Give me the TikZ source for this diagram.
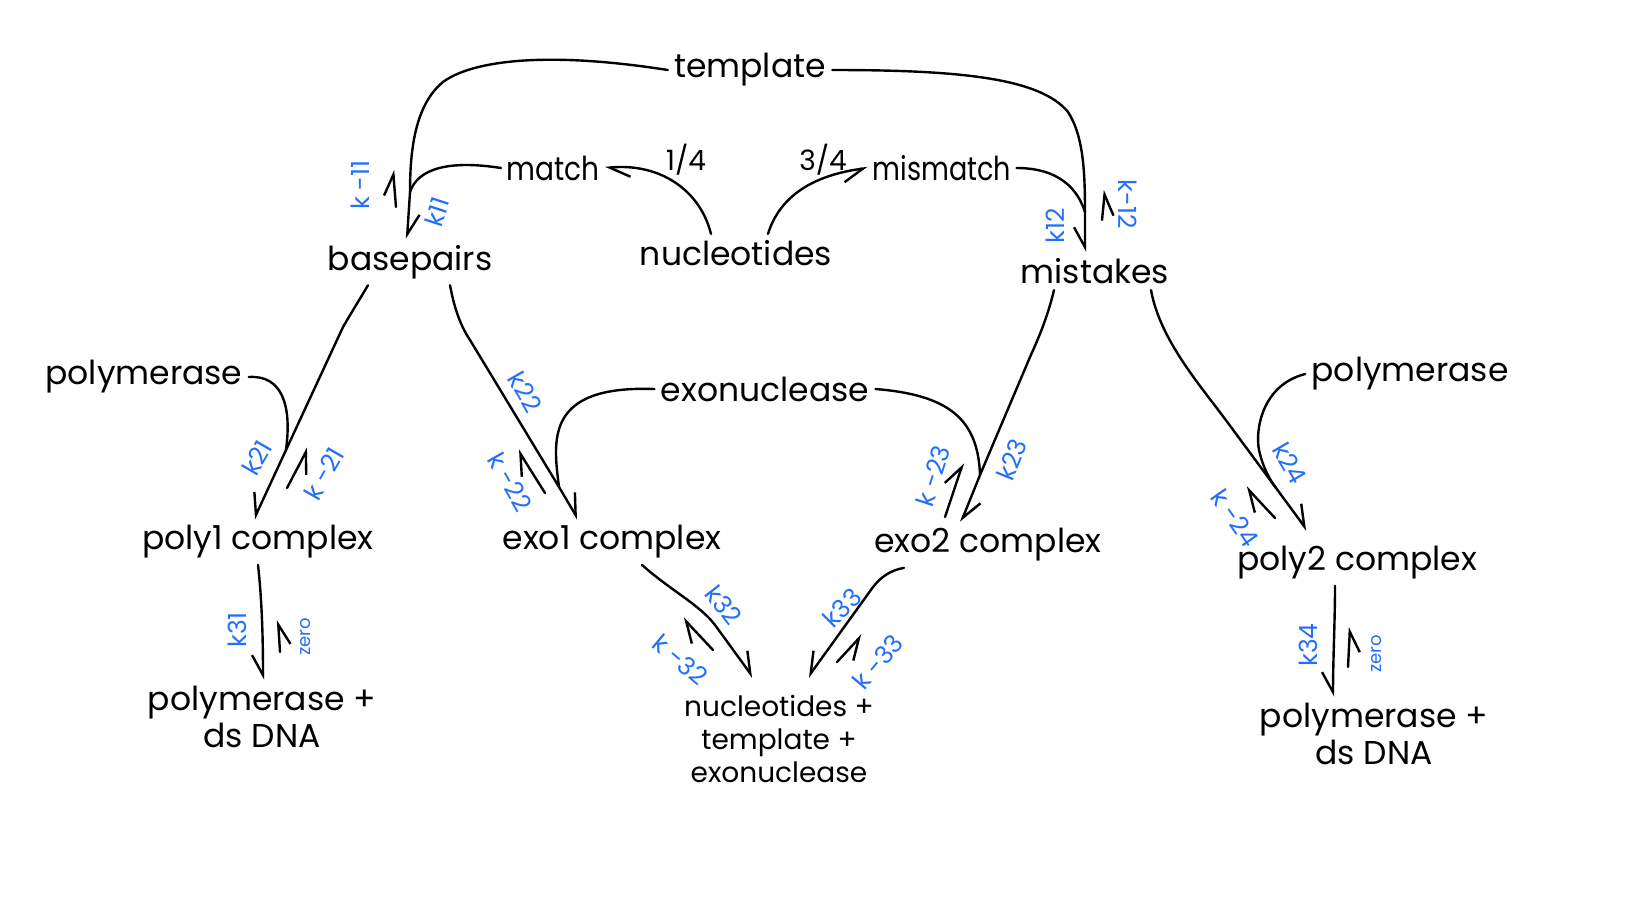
\documentclass[tikz,border=0pt]{standalone}
\usepackage{fontspec}
\setmainfont{Poppins}
\usepackage{tikz}
\usetikzlibrary{arrows.meta}
\definecolor{ratebl}{RGB}{35, 110, 250}
\tikzset{
  stroke/.style={line width=1.2pt, line cap=round, line join=round},
  harpl/.style={stroke, -{Straight Barb[harpoon, length=10pt, width=11pt]}},
  harpr/.style={stroke, -{Straight Barb[harpoon, swap, length=10pt, width=11pt]}},
  spec/.style={font=\fontsize{16.5}{19}\selectfont, inner sep=3pt},
  prod/.style={align=center, inner sep=3pt, font=\fontsize{16.5}{18.5}\selectfont},
  frac/.style={font=\fontsize{14}{16}\selectfont, inner sep=1pt},
  rate/.style={text=ratebl, font=\fontsize{12.5}{14}\selectfont, inner sep=0.5pt},
  zero/.style={text=ratebl, font=\fontsize{9}{10}\selectfont, inner sep=0.5pt},
}

\begin{document}
\begin{tikzpicture}[x=0.5pt, y=-0.5pt]
  \useasboundingbox (0,0) rectangle (1641,900);

  % species
  \node[spec] (template) at (750,70) {template};
  \node[spec, transform shape, xscale=0.85] (match) at (553,168) {match};
  \node[spec, transform shape, xscale=0.82] (mismatch) at (942,168) {mismatch};
  \node[spec] (basepairs) at (410,262) {basepairs};
  \node[spec] (nucleotides) at (736,253) {nucleotides};
  \node[spec] (mistakes) at (1095,271) {mistakes};
  \node[spec] (polyL) at (144,377) {polymerase};
  \node[spec] (exonuclease) at (765,389) {exonuclease};
  \node[spec] (polyR) at (1410,374) {polymerase};
  \node[spec] (poly1) at (258,542) {poly1 complex};
  \node[spec] (exo1) at (612,542) {exo1 complex};
  \node[spec] (exo2) at (988,545) {exo2 complex};
  \node[spec] (poly2) at (1357,563) {poly2 complex};
  \node[prod] (prod1) at (262,717) {polymerase +\\ds DNA};
  \node[prod, font=\fontsize{14}{16.3}\selectfont] (prodexo) at (779,739) {nucleotides +\\template +\\exonuclease};
  \node[prod] (prod2) at (1374,734) {polymerase +\\ds DNA};
  \node[frac] (q14) at (686,160) {1/4};
  \node[frac] (q34) at (823,160) {3/4};

  % merge points
  \coordinate (j11) at (410,192);
  \coordinate (j12) at (1085,212);
  \coordinate (j21) at (286,450);
  \coordinate (j22) at (559,487);
  \coordinate (j23) at (980,475);
  \coordinate (j24) at (1276,488);

  % top
  \draw[harpl] (template.west) .. controls (540,50) and (470,62) .. (443,82)
    .. controls (415,105) and (410,150) .. (j11) -- ([xshift=-1.5pt]basepairs.north);
  \draw[stroke] (match.west) .. controls (450,160) and (418,168) .. (j11);
  \draw[harpl] ([xshift=-12.5pt]nucleotides.north) .. controls (700,190) and (660,163) .. (match.east);
  \draw[harpr] ([xshift=16pt]nucleotides.north) .. controls (780,195) and (815,175) .. (mismatch.west);
  \draw[harpr] (template.east) .. controls (960,70) and (1040,78) .. (1068,112)
    .. controls (1083,135) and (1085,170) .. (j12) -- ([xshift=-5pt]mistakes.north);
  \draw[stroke] (mismatch.east) .. controls (1060,168) and (1078,190) .. (j12);
  \draw[harpl] (396,207) -- (393,170);
  \draw[harpr] (1102,220) -- (1105,190);

  % polymerase 1
  \draw[harpr] ([xshift=-21pt]basepairs.south) .. controls (358,302) and (350,315) .. (343,327)
    -- (j21) -- ([xshift=-2pt]poly1.north);
  \draw[stroke] (polyL.east) .. controls (282,375) and (292,405) .. (j21);
  \draw[harpr] (287,488) -- (308,448);
  \draw[harpr] (poly1.south) .. controls (262,600) and (263,640) .. ([xshift=0.5pt]prod1.north);
  \draw[harpr] (280,652) -- (278,620);

  % exonuclease 1
  \draw[harpl] ([xshift=20pt]basepairs.south) .. controls (455,312) and (462,328) .. (470,340)
    -- (j22) -- ([xshift=-17pt]exo1.north);
  \draw[stroke] (exonuclease.west) .. controls (545,385) and (553,440) .. (j22);
  \draw[harpl] (545,493) -- (518,450);
  \draw[harpl] ([xshift=15pt]exo1.south) .. controls (670,590) and (700,605) .. (715,625)
    -- ([xshift=-13pt,yshift=6pt]prodexo.north);
  \draw[harpl] (713,650) -- (683,618);

  % exonuclease 2
  \draw[harpl] ([xshift=-20.5pt]mistakes.south) .. controls (1048,315) and (1040,335) .. (1030,357)
    -- (j23) -- ([xshift=-13.5pt]exo2.north);
  \draw[stroke] (exonuclease.east) .. controls (950,395) and (978,420) .. (j23);
  \draw[harpl] (945,517) -- (963,463);
  \draw[harpr] ([xshift=-42pt]exo2.south) .. controls (890,570) and (880,578) .. (873,587)
    -- ([xshift=14.5pt,yshift=6pt]prodexo.north);
  \draw[harpr] (837,662) -- (862,635);

  % polymerase 2
  \draw[harpl] ([xshift=28pt]mistakes.south) .. controls (1160,340) and (1200,385) .. (1228,423)
    -- (j24) -- ([xshift=-25pt,yshift=5pt]poly2.north);
  \draw[stroke] (polyR.west) .. controls (1262,385) and (1255,430) .. (1259,450)
    .. controls (1263,468) and (1270,480) .. (j24);
  \draw[harpl] (1275,518) -- (1246,487);
  \draw[harpr] ([xshift=-11pt]poly2.south) .. controls (1335,620) and (1333,660) .. ([xshift=-20.5pt]prod2.north);
  \draw[harpr] (1348,667) -- (1350,627);

  % rates
  \node[rate, rotate=90] (rm11) at (360,185) {k -11};
  \node[rate, rotate=72] (r11) at (437,212) {k11};
  \node[rate, rotate=90] (r12) at (1055,226) {k12};
  \node[rate, rotate=-90] (rm12) at (1128,204) {k-12};
  \node[rate, rotate=60] (r21) at (257,458) {k21};
  \node[rate, rotate=60] (rm21) at (324,474) {k -21};
  \node[rate, rotate=90] (r31) at (237,630) {k31};
  \node[zero, rotate=90] (z1) at (306,637) {zero};
  \node[rate, rotate=-60] (r22) at (525,392) {k22};
  \node[rate, rotate=-60] (rm22) at (510,482) {k -22};
  \node[rate, rotate=-52] (r32) at (724,605) {k32};
  \node[rate, rotate=-40] (rm32) at (680,660) {k -32};
  \node[rate, rotate=45] (r33) at (842,608) {k33};
  \node[rate, rotate=50] (rm33) at (878,662) {k -33};
  \node[rate, rotate=72] (rm23) at (933,476) {k -23};
  \node[rate, rotate=68] (r23) at (1012,460) {k23};
  \node[rate, rotate=-60] (r24) at (1290,463) {k24};
  \node[rate, rotate=-55] (rm24) at (1235,518) {k -24};
  \node[rate, rotate=90] (r34) at (1308,645) {k34};
  \node[zero, rotate=90] (z2) at (1377,654) {zero};
\end{tikzpicture}
\end{document}
